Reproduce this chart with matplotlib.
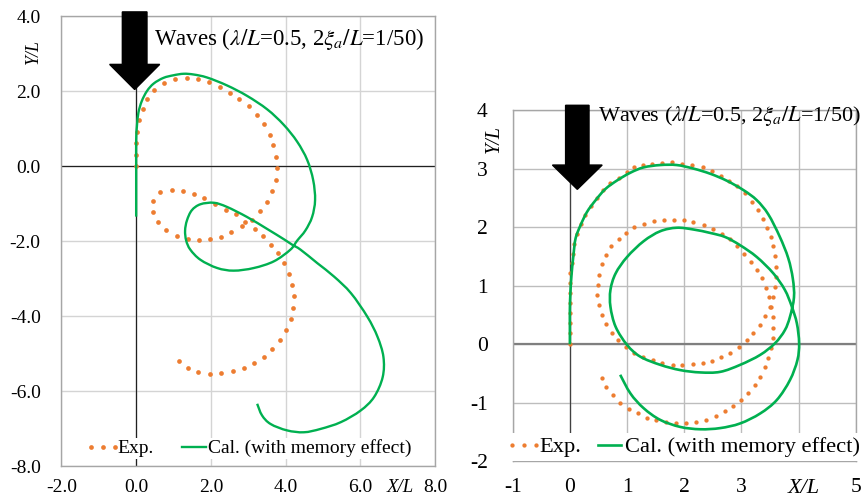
import matplotlib
matplotlib.use("Agg")
import matplotlib.pyplot as plt
from matplotlib.patches import FancyArrow, PathPatch
from matplotlib.path import Path
from matplotlib.lines import Line2D
from matplotlib.legend_handler import HandlerLine2D

plt.rcParams["font.family"] = ["Liberation Serif", "DejaVu Serif"]
plt.rcParams["mathtext.fontset"] = "stix"

# ---------------- data: left panel ----------------
left_exp_x = [0, 0, 0, 0.02, 0.07, 0.17, 0.30, 0.49, 0.75, 1.04, 1.35, 1.65, 1.95, 2.24, 2.51,
              2.76, 3.01, 3.23, 3.42, 3.57, 3.67, 3.74, 3.77, 3.74, 3.64, 3.50, 3.32, 3.10, 2.84,
              2.55, 2.26, 1.99, 1.68, 1.39, 1.08, 0.80, 0.58, 0.44, 0.45, 0.65, 0.96, 1.25, 1.54,
              1.82, 2.10, 2.40, 2.66, 2.92, 3.17, 3.39, 3.61, 3.79, 3.96, 4.09, 4.18, 4.22, 4.21,
              4.14, 4.02, 3.86, 3.65, 3.42, 3.16, 2.88, 2.59, 2.28, 1.98, 1.66, 1.38, 1.14]
left_exp_y = [0, 0.30, 0.61, 0.91, 1.22, 1.52, 1.80, 2.04, 2.22, 2.32, 2.35, 2.32, 2.23, 2.11, 1.96,
              1.79, 1.60, 1.37, 1.11, 0.84, 0.56, 0.25, -0.05, -0.37, -0.67, -0.95, -1.20, -1.43,
              -1.61, -1.76, -1.88, -1.95, -1.96, -1.94, -1.86, -1.71, -1.50, -1.23, -0.92, -0.70,
              -0.64, -0.67, -0.74, -0.86, -1.01, -1.17, -1.29, -1.48, -1.68, -1.87, -2.11, -2.32,
              -2.59, -2.88, -3.16, -3.47, -3.79, -4.09, -4.38, -4.64, -4.88, -5.08, -5.25, -5.38,
              -5.46, -5.53, -5.54, -5.49, -5.38, -5.19]

left_cal_x = [0, 0, 0, 0, 0.02, 0.06, 0.15, 0.29, 0.47, 0.73, 1.00, 1.27, 1.54, 1.90, 2.43, 2.97,
              3.51, 3.95, 4.31, 4.58, 4.74, 4.79, 4.71, 4.53, 4.31, 4.13, 3.69, 3.15, 2.61, 2.17,
              1.72, 1.45, 1.34, 1.31, 1.36, 1.49, 1.72, 2.08, 2.43, 2.97, 3.51, 3.95, 4.18, 4.40,
              4.85, 5.30, 5.75, 6.19, 6.46, 6.62, 6.60, 6.37, 6.01, 5.48, 4.94, 4.49, 4.04, 3.60,
              3.37, 3.24]
left_cal_y = [-1.35, -0.60, 0, 0.70, 1.06, 1.42, 1.73, 2.00, 2.20, 2.35, 2.42, 2.46, 2.44, 2.36,
              2.15, 1.87, 1.51, 1.10, 0.65, 0.16, -0.38, -0.91, -1.36, -1.72, -1.99, -2.23, -2.54,
              -2.72, -2.79, -2.72, -2.50, -2.23, -1.99, -1.72, -1.45, -1.18, -1.02, -0.98, -1.09,
              -1.36, -1.68, -1.95, -2.10, -2.23, -2.59, -2.95, -3.39, -4.02, -4.55, -5.09, -5.63,
              -6.16, -6.52, -6.83, -7.01, -7.10, -7.05, -6.88, -6.65, -6.34]

left_xticks = [-2, 0, 2, 4, 6, 8]
left_yticks = [-8, -6, -4, -2, 0, 2, 4]

# ---------------- data: right panel ----------------
right_exp_x = [0, 0, 0, 0, 0, 0, 0, 0, 0.04, 0.05, 0.08, 0.13, 0.20, 0.27, 0.37, 0.47, 0.58, 0.71,
               0.86, 1.00, 1.13, 1.28, 1.44, 1.61, 1.79, 1.97, 2.14, 2.32, 2.48, 2.64, 2.79, 2.93,
               3.07, 3.18, 3.29, 3.37, 3.45, 3.51, 3.56, 3.59, 3.61, 3.61, 3.59, 3.55, 3.51,
               3.42, 3.33, 3.21, 3.10, 2.96, 2.80, 2.65, 2.49, 2.32, 2.15, 1.97, 1.80, 1.62, 1.45,
               1.28, 1.13, 0.98, 0.85, 0.74, 0.63, 0.56, 0.51, 0.48, 0.49, 0.51, 0.57, 0.63, 0.72,
               0.86, 0.99, 1.13, 1.29, 1.47, 1.64, 1.82, 1.99, 2.16, 2.34, 2.50, 2.66, 2.80, 2.93,
               3.05, 3.17, 3.27, 3.36, 3.43, 3.49, 3.50,
               3.55, 3.56, 3.55, 3.51, 3.47, 3.42, 3.33, 3.23, 3.12, 3.00, 2.86, 2.71, 2.55, 2.38,
               2.21, 2.04, 1.86, 1.69, 1.51, 1.35, 1.19, 1.03, 0.88, 0.76, 0.64, 0.57]
right_exp_y = [0, 0.19, 0.36, 0.53, 0.70, 0.87, 1.04, 1.21, 1.38, 1.55, 1.72, 1.89, 2.06, 2.21,
               2.36, 2.50, 2.63, 2.75, 2.84, 2.94, 3.02, 3.06, 3.08, 3.10, 3.11, 3.08, 3.06, 3.02,
               2.96, 2.88, 2.79, 2.70, 2.58, 2.43, 2.29, 2.14, 1.99, 1.84, 1.67, 1.50, 1.32, 1.15,
               0.98, 0.80, 0.63,
               0.48, 0.33, 0.20, 0.07, -0.04, -0.14, -0.21, -0.28, -0.32, -0.34, -0.36, -0.35,
               -0.32, -0.27, -0.21, -0.14, -0.04, 0.07, 0.20, 0.34, 0.50, 0.67, 0.84, 1.02, 1.19,
               1.37, 1.52, 1.67, 1.79, 1.90, 2.00, 2.06, 2.10, 2.13, 2.13, 2.12, 2.08, 2.03, 1.96,
               1.88, 1.79, 1.68, 1.55, 1.41, 1.27, 1.13, 0.96, 0.80, 0.63,
               0.46, 0.28, 0.11, -0.07, -0.23, -0.39, -0.55, -0.69, -0.83, -0.95, -1.05, -1.14,
               -1.22, -1.29, -1.32, -1.34, -1.35, -1.33, -1.30, -1.25, -1.18, -1.10, -1.00, -0.87,
               -0.73, -0.58]

right_cal_x = [0, 0, 0, 0.01, 0.03, 0.06, 0.10, 0.19, 0.30, 0.45, 0.62, 0.83, 1.06, 1.29, 1.58,
               1.87, 2.16, 2.46, 2.75, 3.04, 3.27, 3.47, 3.67, 3.82, 3.90, 3.92,
               3.85, 3.76, 3.59, 3.33, 2.98, 2.63, 2.28, 1.93, 1.58, 1.23, 1.00, 0.80, 0.71, 0.71,
               0.80, 1.00, 1.29, 1.58, 1.87, 2.16, 2.46, 2.72, 2.98, 3.27, 3.56, 3.76, 3.88,
               3.97, 4.01, 3.98, 3.85, 3.62, 3.33, 2.98, 2.63, 2.28, 1.93, 1.58, 1.29, 1.06, 0.88]
right_cal_y = [0, 0.30, 0.60, 0.90, 1.20, 1.50, 1.81, 2.04, 2.26, 2.46, 2.65, 2.80, 2.93, 3.02,
               3.06, 3.06, 3.00, 2.91, 2.79, 2.63, 2.46, 2.22, 1.84, 1.47, 1.12, 0.80,
               0.47, 0.24, 0.02, -0.18, -0.35, -0.47, -0.48, -0.44, -0.35, -0.21, -0.01, 0.30,
               0.64, 0.93, 1.21, 1.49, 1.76, 1.93, 1.99, 1.96, 1.90, 1.83, 1.69, 1.49, 1.21,
               0.93, 0.65, 0.36, 0.02, -0.27, -0.61, -0.95, -1.18, -1.35, -1.43, -1.45, -1.41,
               -1.29, -1.09, -0.84, -0.52]

right_xticks = [-1, 0, 1, 2, 3, 4, 5]
right_xticklabels = ["-1", "0", "1", "2", "3", "", "5"]
right_yticks = [-2, -1, 0, 1, 2, 3, 4]

series_labels = ["Exp.", "Cal. (with memory effect)"]
wave_text = r"Waves ($\lambda/L$=0.5, 2$\xi_a/L$=1/50)"

ORANGE = "#ED7D31"
GREEN = "#00B050"


def smooth_path(xs, ys):
    """Smoothed line through the points (like a spreadsheet 'smoothed line'),
    as cubic Bezier segments (Catmull-Rom tangents)."""
    pts = list(zip(xs, ys))
    n = len(pts)
    verts = [pts[0]]
    codes = [Path.MOVETO]
    for i in range(n - 1):
        p0 = pts[max(i - 1, 0)]
        p1 = pts[i]
        p2 = pts[i + 1]
        p3 = pts[min(i + 2, n - 1)]
        c1 = (p1[0] + (p2[0] - p0[0]) / 6.0, p1[1] + (p2[1] - p0[1]) / 6.0)
        c2 = (p2[0] - (p3[0] - p1[0]) / 6.0, p2[1] - (p3[1] - p1[1]) / 6.0)
        verts += [c1, c2, p2]
        codes += [Path.CURVE4, Path.CURVE4, Path.CURVE4]
    return Path(verts, codes)


fig = plt.figure(figsize=(8.62, 4.99), dpi=100)
axL = fig.add_axes([0.0713, 0.0661, 0.4333, 0.9018])
axR = fig.add_axes([0.5948, 0.0752, 0.3979, 0.7044])


def style_axes(ax, gridc, framec, fs):
    ax.grid(True, color=gridc, linewidth=1.0, zorder=0)
    ax.set_axisbelow(True)
    for s in ax.spines.values():
        s.set_color(framec)
        s.set_linewidth(1.0)
    ax.tick_params(length=0, labelsize=fs, colors="black")


# ---------------- left panel ----------------
style_axes(axL, "#D4D4D4", "#A6A6A6", 14)
axL.set_xlim(-2, 8)
axL.set_ylim(-8, 4)
axL.set_xticks(left_xticks)
axL.set_xticklabels([f"{v:.1f}" for v in left_xticks])
axL.set_yticks(left_yticks)
axL.set_yticklabels([f"{v:.1f}" for v in left_yticks])
axL.tick_params(axis="y", pad=15)
axL.tick_params(axis="x", pad=9)
axL.axhline(0, color="#202020", lw=0.9, zorder=1)
axL.axvline(0, color="#202020", lw=0.9, zorder=1)
axL.plot(left_exp_x, left_exp_y, linestyle="None", marker="o", ms=3.4, color=ORANGE, mew=0, zorder=3)
axL.add_patch(PathPatch(smooth_path(left_cal_x, left_cal_y), fill=False, edgecolor=GREEN,
                        lw=1.7, zorder=3, joinstyle="round", capstyle="butt"))
axL.add_patch(FancyArrow(-0.04, 4.11, 0, -2.07, width=0.66, head_width=1.34, head_length=0.67,
                         length_includes_head=True, color="black", clip_on=False, zorder=6))
axL.text(0.48, 3.38, wave_text, fontsize=16.5, va="center", ha="left", zorder=6)
axL.text(-2.75, 3.06, "Y/L", rotation=90, style="italic", fontsize=13, ha="center", va="center")
axL.text(7.08, -8.58, "X/L", style="italic", fontsize=13.5, ha="center", va="center")

hE = Line2D([], [], color=ORANGE, marker="o", linestyle="None", ms=3.4, mew=0)
hC = Line2D([], [], color=GREEN, lw=1.7)
legL = axL.legend([hE, hC], series_labels, ncol=2, loc="center", bbox_to_anchor=(0.508, 0.039),
                  fontsize=14, frameon=True, framealpha=1, facecolor="white", edgecolor="none",
                  handlelength=1.25, handletextpad=0.12, columnspacing=1.45, borderpad=0.1,
                  borderaxespad=0, fancybox=False,
                  handler_map={hE: HandlerLine2D(marker_pad=0, numpoints=3)})
legL.set_zorder(5)

# ---------------- right panel ----------------
style_axes(axR, "#BDBDBD", "#A6A6A6", 15.5)
axR.set_xlim(-1, 5)
axR.set_ylim(-2, 4)
axR.set_xticks(right_xticks)
axR.set_xticklabels(right_xticklabels)
axR.set_yticks(right_yticks)
axR.set_yticklabels([str(v) for v in right_yticks])
axR.tick_params(axis="y", pad=18)
axR.tick_params(axis="x", pad=12)
axR.axhline(0, color="#7F7F7F", lw=1.6, zorder=1)
axR.axvline(0, color="#404040", lw=0.9, zorder=1)
axR.plot(right_exp_x, right_exp_y, linestyle="None", marker="o", ms=3.1, color=ORANGE, mew=0, zorder=3)
axR.add_patch(PathPatch(smooth_path(right_cal_x, right_cal_y), fill=False, edgecolor=GREEN,
                        lw=1.9, zorder=3, joinstyle="round", capstyle="butt"))
axR.add_patch(FancyArrow(0.13, 4.08, 0, -1.435, width=0.41, head_width=0.87, head_length=0.415,
                         length_includes_head=True, color="black", clip_on=False, zorder=6))
axR.text(0.50, 3.90, wave_text, fontsize=16, va="center", ha="left", zorder=6)
axR.text(-1.33, 3.5, "Y/L", rotation=90, style="italic", fontsize=14.5, ha="center", va="center")
axR.text(4.1, -2.46, "X/L", style="italic", fontsize=16, ha="center", va="center")

hE2 = Line2D([], [], color=ORANGE, marker="o", linestyle="None", ms=3.1, mew=0)
hC2 = Line2D([], [], color=GREEN, lw=1.9)
legR = axR.legend([hE2, hC2], series_labels, ncol=2, loc="center", bbox_to_anchor=(0.505, 0.041),
                  fontsize=16.2, frameon=True, framealpha=1, facecolor="white", edgecolor="none",
                  handlelength=1.05, handletextpad=0.15, columnspacing=0.73, borderpad=0.15,
                  borderaxespad=0, fancybox=False,
                  handler_map={hE2: HandlerLine2D(marker_pad=0, numpoints=3)})
legR.set_zorder(5)

fig.savefig("out.png", dpi=100)
